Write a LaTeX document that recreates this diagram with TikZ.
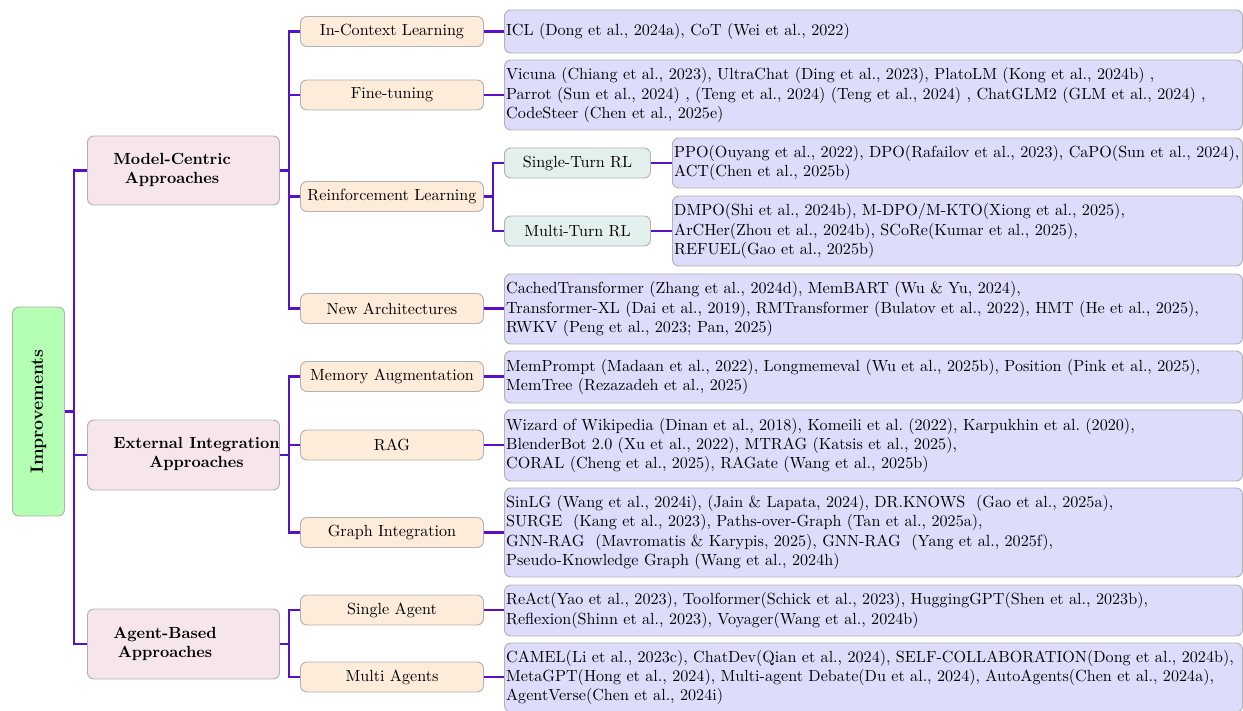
\documentclass[tikz,border=0pt]{standalone}
\definecolor{conncol}{RGB}{88,16,200}
\definecolor{leaffill}{RGB}{221,221,251}
\definecolor{ltwofill}{RGB}{253,236,217}
\definecolor{lthreefill}{RGB}{227,240,238}
\definecolor{lonefill}{RGB}{246,229,234}
\definecolor{rootfill}{RGB}{180,255,180}
\definecolor{bordergray}{RGB}{178,178,178}
\def\pxu{0.62pt}
\tikzset{
  boxbase/.style={draw=bordergray, line width=0.6pt, rounded corners=4pt, anchor=west, inner sep=0pt, font=\frenchspacing},
  rootbox/.style={boxbase, fill=rootfill, minimum width=52*\pxu, minimum height=209*\pxu},
  roottext/.style={rotate=90, font=\fontsize{11}{13}\selectfont\bfseries, inner sep=0pt},
  lonebox/.style={boxbase, fill=lonefill, minimum width=192*\pxu, minimum height=70*\pxu},
  lonetext/.style={align=center, font=\bfseries, inner sep=0pt},
  ltwobox/.style={boxbase, fill=ltwofill, minimum width=183*\pxu, minimum height=30*\pxu},
  lthreebox/.style={boxbase, fill=lthreefill, minimum width=146*\pxu, minimum height=30*\pxu},
  leafbox/.style={boxbase, fill=leaffill, align=left, inner xsep=1.5*\pxu, minimum width=738*\pxu, text width=455.5pt},
  rlleafbox/.style={boxbase, fill=leaffill, align=left, inner xsep=1.5*\pxu, minimum width=570*\pxu, text width=351.3pt},
  conn/.style={draw=conncol, line width=1.35pt}
}
\begin{document}
\begin{tikzpicture}[x=0.62pt, y=-0.62pt]
\useasboundingbox (0,0) rectangle (1243,710);
% root
\node[rootbox] (root) at (12,411.5) {};
\node[roottext] (roott) at (root.center) {Improvements};
% level 1
\node[lonebox, minimum height=69*\pxu] (mc) at (87,170.5) {};
\node[lonetext] (mct) at (172,170) {Model-Centric\\Approaches};
\node[lonebox] (ei) at (87,455) {};
\node[lonetext] (eit) at (196.5,454) {External Integration\\Approaches};
\node[lonebox] (ab) at (87,644) {};
\node[lonetext] (abt) at (165,644) {Agent-Based\\Approaches};
% level 2
\node[ltwobox] (icl) at (300,31.5) {In-Context Learning};
\node[ltwobox] (ft) at (300,95) {Fine-tuning};
\node[ltwobox] (rl) at (300,196.5) {Reinforcement Learning};
\node[ltwobox] (na) at (300,308.5) {New Architectures};
\node[ltwobox] (ma) at (300,376.5) {Memory Augmentation};
\node[ltwobox] (rag) at (300,445) {RAG};
\node[ltwobox] (gi) at (300,532.5) {Graph Integration};
\node[ltwobox] (sa) at (300,610) {Single Agent};
\node[ltwobox] (mag) at (300,677) {Multi Agents};
% level 3
\node[lthreebox] (st) at (504,163) {Single-Turn RL};
\node[lthreebox] (mt) at (504,231) {Multi-Turn RL};
% leaves
\node[leafbox, minimum height=43*\pxu] (iclL) at (504,31.5) {ICL (Dong et al., 2024a), CoT (Wei et al., 2022)};
\node[leafbox, minimum height=70*\pxu] (ftL) at (504,95) {Vicuna (Chiang et al., 2023), UltraChat (Ding et al., 2023), PlatoLM (Kong et al., 2024b) ,\\Parrot (Sun et al., 2024) , (Teng et al., 2024) (Teng et al., 2024) , ChatGLM2 (GLM et al., 2024) ,\\CodeSteer (Chen et al., 2025e)};
\node[rlleafbox, minimum height=50*\pxu] (stL) at (672,163) {PPO(Ouyang et al., 2022), DPO(Rafailov et al., 2023), CaPO(Sun et al., 2024),\\ACT(Chen et al., 2025b)};
\node[rlleafbox, minimum height=70*\pxu] (mtL) at (672,231) {DMPO(Shi et al., 2024b), M-DPO/M-KTO(Xiong et al., 2025),\\ArCHer(Zhou et al., 2024b), SCoRe(Kumar et al., 2025),\\REFUEL(Gao et al., 2025b)};
\node[leafbox, minimum height=70*\pxu] (naL) at (504,309) {CachedTransformer (Zhang et al., 2024d), MemBART (Wu \& Yu, 2024),\\Transformer-XL (Dai et al., 2019), RMTransformer (Bulatov et al., 2022), HMT (He et al., 2025),\\RWKV (Peng et al., 2023; Pan, 2025)};
\node[leafbox, minimum height=52*\pxu] (maL) at (504,377) {MemPrompt (Madaan et al., 2022), Longmemeval (Wu et al., 2025b), Position (Pink et al., 2025),\\MemTree (Rezazadeh et al., 2025)};
\node[leafbox, minimum height=71*\pxu] (ragL) at (504,445.5) {Wizard of Wikipedia (Dinan et al., 2018), Komeili et al. (2022), Karpukhin et al. (2020),\\BlenderBot 2.0 (Xu et al., 2022), MTRAG (Katsis et al., 2025),\\CORAL (Cheng et al., 2025), RAGate (Wang et al., 2025b)};
\node[leafbox, minimum height=89*\pxu] (giL) at (504,532.5) {SinLG (Wang et al., 2024i), (Jain \& Lapata, 2024), DR.KNOWS\ \ (Gao et al., 2025a),\\SURGE\ \ (Kang et al., 2023), Paths-over-Graph (Tan et al., 2025a),\\GNN-RAG\ \ (Mavromatis \& Karypis, 2025), GNN-RAG\ \ (Yang et al., 2025f),\\Pseudo-Knowledge Graph (Wang et al., 2024h)};
\node[leafbox, minimum height=51*\pxu] (saL) at (504,610.5) {ReAct(Yao et al., 2023), Toolformer(Schick et al., 2023), HuggingGPT(Shen et al., 2023b),\\Reflexion(Shinn et al., 2023), Voyager(Wang et al., 2024b)};
\node[leafbox, minimum height=69*\pxu] (magL) at (504,677.5) {CAMEL(Li et al., 2023c), ChatDev(Qian et al., 2024), SELF-COLLABORATION(Dong et al., 2024b),\\MetaGPT(Hong et al., 2024), Multi-agent Debate(Du et al., 2024), AutoAgents(Chen et al., 2024a),\\AgentVerse(Chen et al., 2024i)};
% connectors root -> level 1
\foreach \c in {mc,ei,ab} \draw[conn] (root.east) -- ++(9,0) |- (\c.west);
% level 1 -> level 2
\foreach \c in {icl,ft,rl,na} \draw[conn] (mc.east) -- ++(9,0) |- (\c.west);
\foreach \c in {ma,rag,gi} \draw[conn] (ei.east) -- ++(9,0) |- (\c.west);
\foreach \c in {sa,mag} \draw[conn] (ab.east) -- ++(9,0) |- (\c.west);
% level 2 -> level 3
\foreach \c in {st,mt} \draw[conn] (rl.east) -- ++(9,0) |- (\c.west);
% to leaves
\foreach \a/\b in {icl/iclL, ft/ftL, st/stL, mt/mtL, na/naL, ma/maL, rag/ragL, gi/giL, sa/saL, mag/magL}
  \draw[conn] (\a.east) -- (\a.east -| \b.west);
\end{tikzpicture}
\end{document}
